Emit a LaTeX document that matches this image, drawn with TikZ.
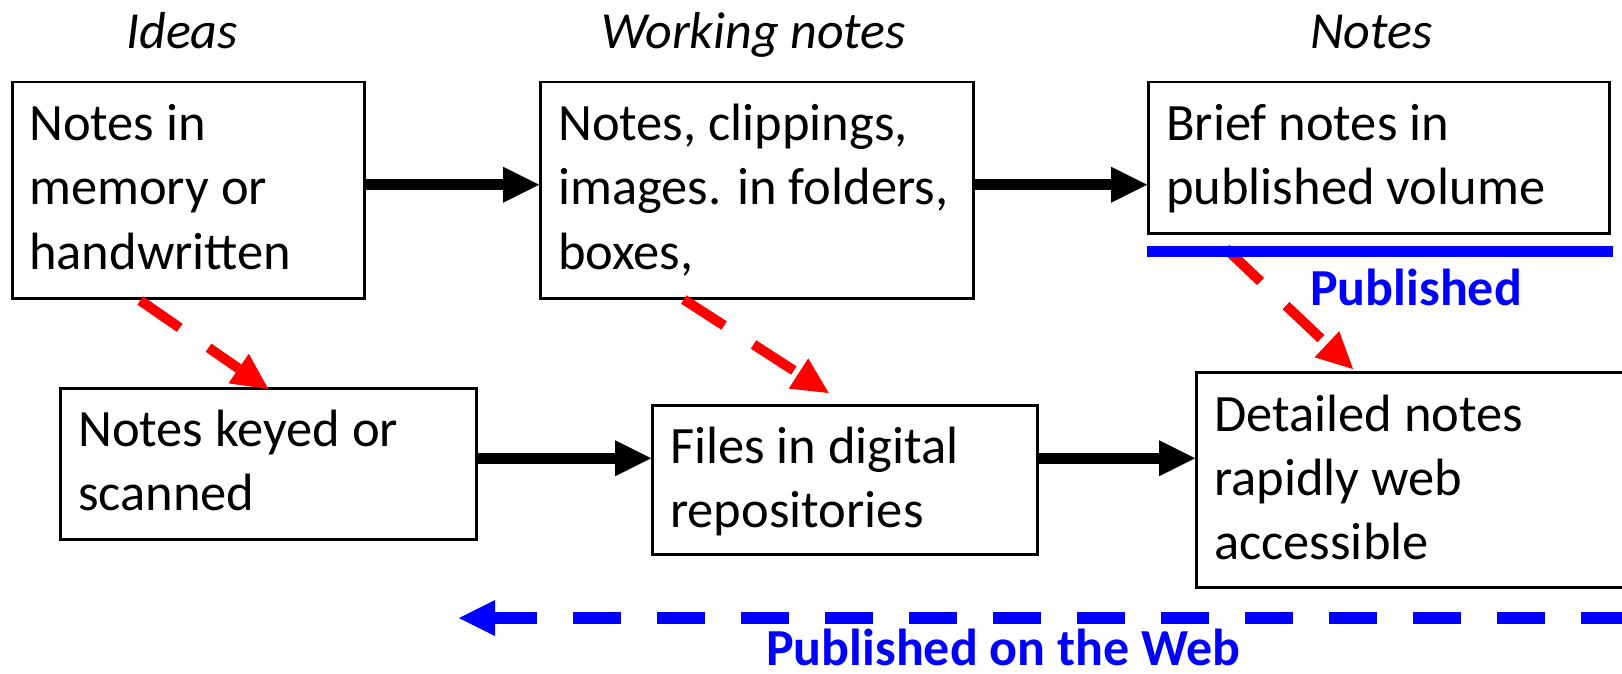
\documentclass[tikz,border=0pt]{standalone}
\usepackage{fontspec}
\setmainfont{Carlito}
\usetikzlibrary{arrows.meta}
\definecolor{pblue}{RGB}{0,0,255}
\definecolor{pred}{RGB}{255,0,0}
\begin{document}
\begin{tikzpicture}[x=1pt,y=-1pt,
  box/.style={draw, line width=2.5pt, rectangle, inner sep=0pt, anchor=north west},
  txt/.style={anchor=base west, inner sep=0pt, font=\fontsize{52.5}{64}\selectfont},
  head/.style={anchor=base west, inner sep=0pt, font=\fontsize{52}{64}\selectfont\itshape},
  blabel/.style={anchor=base west, inner sep=0pt, text=pblue, font=\fontsize{52}{64}\selectfont\bfseries},
  blk/.style={line width=11pt, -{Triangle[length=36pt,width=36pt,line width=0pt]}},
  redarr/.style={pred, line width=10pt, dash pattern=on 48pt off 35pt, -{Triangle[length=36pt,width=36pt,line width=0pt]}},
  bluearr/.style={pblue, line width=12pt, dash pattern=on 48pt off 36pt, -{Triangle[length=36pt,width=36pt,line width=0pt]}},
  bluebar/.style={pblue, line width=11pt}
]
\useasboundingbox (0,0) rectangle (1622,674);

% headers
\node[head] (hI) at (126,49) {Ideas};
\node[head] (hW) at (601,49) {Working notes};
\node[head] (hN) at (1310,49) {Notes};

% boxes
\node[box, minimum width=352pt, minimum height=216pt] (A) at (11,81) {};
\node[box, minimum width=433pt, minimum height=216pt] (B) at (539,81) {};
\node[box, minimum width=461pt, minimum height=151pt] (C) at (1147,81) {};
\node[box, minimum width=416pt, minimum height=151pt] (D) at (59,387) {};
\node[box, minimum width=385pt, minimum height=149pt] (E) at (651,404) {};
\node[box, minimum width=445pt, minimum height=215pt] (F) at (1195,371) {};

% box texts
\node[txt] (At) at (29,141) {\parbox[t]{600pt}{Notes in\\memory or\\handwritten}};
\node[txt] (Bt) at (558,141) {\parbox[t]{600pt}{Notes, clippings,\\images. in folders,\\boxes,}};
\node[txt] (Ct) at (1166,141) {\parbox[t]{600pt}{Brief notes in\\published volume}};
\node[txt] (Dt) at (78,446) {\parbox[t]{600pt}{Notes keyed or\\scanned}};
\node[txt] (Et) at (670,463) {\parbox[t]{600pt}{Files in digital\\repositories}};
\node[txt] (Ft) at (1214,431) {\parbox[t]{600pt}{Detailed notes\\rapidly web\\accessible}};

% black arrows
\draw[blk] ([yshift=5.5pt]A.east) -- ([yshift=5.5pt]A.east -| B.west);
\draw[blk] ([yshift=5.5pt]B.east) -- ([yshift=5.5pt]B.east -| C.west);
\draw[blk] ([yshift=5.5pt]D.east) -- ([yshift=5.5pt]D.east -| E.west);
\draw[blk] ([yshift=21.5pt]E.east) -- ([yshift=21.5pt]E.east -| F.west);

% red dashed arrows
\draw[redarr] ([xshift=-48pt,yshift=-1pt]A.south) -- ([yshift=-2pt]D.north);
\draw[redarr] ([xshift=-73pt]B.south) -- ([xshift=-16pt,yshift=11pt]E.north);
\draw[redarr] ([xshift=-153pt,yshift=-14pt]C.south) -- ([xshift=158pt,yshift=2pt]F.north west);

% published bar
\draw[bluebar] ([yshift=-16.5pt]C.south west) -- ([yshift=-16.5pt,xshift=2pt]C.south east);
\node[blabel] (pub) at (1310,305) {Published};

% published on the web
\coordinate (wr) at (1629,618);
\coordinate (wl) at (459,618);
\draw[bluearr] (wr) -- (wl);
\node[blabel] (pubweb) at (766,665) {Published on the Web};
\end{tikzpicture}
\end{document}
